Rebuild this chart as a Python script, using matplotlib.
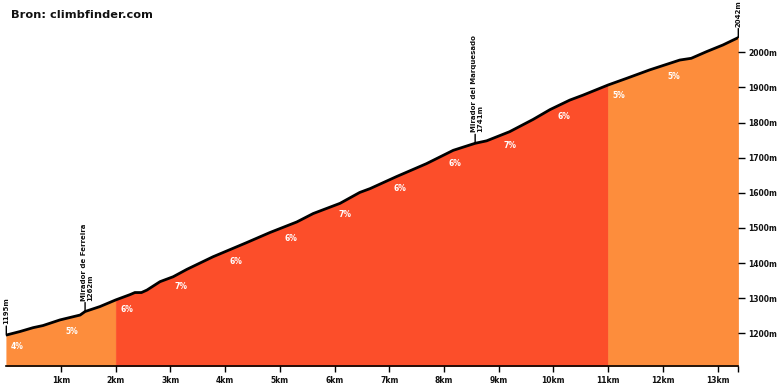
import numpy as np
import matplotlib
matplotlib.use("Agg")
import matplotlib.pyplot as plt

# profile (km, m)
km = [0.0, 0.25, 0.49, 0.67, 0.98, 1.35, 1.44, 1.71, 2.00, 2.26, 2.35, 2.47, 2.57,
      2.81, 3.05, 3.30, 3.78, 4.39, 4.82, 5.31, 5.61, 6.10, 6.46, 6.65, 7.13, 7.68,
      8.17, 8.57, 8.78, 9.20, 9.63, 9.94, 10.30, 10.54, 11.00, 11.34, 11.76, 12.31,
      12.52, 12.80, 13.10, 13.38]
elev = [1195, 1205, 1216, 1222, 1238, 1252, 1262, 1276, 1295, 1310, 1316, 1316, 1323,
        1347, 1361, 1382, 1418, 1458, 1487, 1517, 1541, 1570, 1601, 1612, 1646, 1683,
        1721, 1741, 1748, 1774, 1809, 1837, 1864, 1878, 1907, 1926, 1950, 1978,
        1983, 2002, 2021, 2042]

# gradient per km segment (last one is the short end piece, not labelled)
grades = [4, 5, 6, 7, 6, 6, 7, 6, 6, 7, 6, 5, 5, 5]

# points of interest
poi_km = [0.0, 1.44, 8.57, 13.38]
poi_labels = ["1195m", "Mirador de Ferreira\n1262m", "Mirador del Marquesado\n1741m", "2042m"]
poi_elev = [1195, 1262, 1741, 2042]

yticks = [1200, 1300, 1400, 1500, 1600, 1700, 1800, 1900, 2000]
xticks = list(range(1, 14))

ORANGE = "#fd8d3c"
RED = "#fc4e2a"

def grade_color(g):
    return ORANGE if g <= 5 else RED

km = np.array(km)
elev = np.array(elev)
xmax = km[-1]
ybot = 1106

fig = plt.figure(figsize=(7.8, 3.9), dpi=100)
ax = fig.add_axes([6.3 / 780, (390 - 366.3) / 390, 732 / 780, 366.3 / 390])
ax.set_xlim(0, xmax)
ax.set_ylim(ybot, 2149)

# group consecutive km segments with the same colour, so no seams show
groups = []
for i, g in enumerate(grades):
    c = grade_color(g)
    a, b = i, min(i + 1, xmax)
    if groups and groups[-1][2] == c:
        groups[-1][1] = b
    else:
        groups.append([a, b, c])

for a, b, c in groups:
    inner = km[(km > a) & (km < b)]
    xs = np.concatenate([[a], inner, [b]])
    ys = np.interp(xs, km, elev)
    ax.fill_between(xs, ybot, ys, facecolor=c, edgecolor=c, lw=0.4)

# grade labels
for i, g in enumerate(grades):
    if min(i + 1, xmax) - i >= 0.8:
        xl = i + 0.2
        ax.annotate(f"{g}%", xy=(xl, np.interp(xl, km, elev)), xytext=(0, -14),
                    textcoords="offset pixels", ha="center", va="center",
                    color="white", fontsize=5.5, fontweight="bold")

ax.plot(km, elev, color="black", lw=2, solid_capstyle="round", zorder=3)

# markers
for x, e, lab in zip(poi_km, poi_elev, poi_labels):
    ax.annotate("", xy=(x, e), xytext=(0, 9), textcoords="offset pixels",
                arrowprops=dict(arrowstyle="-", lw=1, color="black", shrinkA=0, shrinkB=0),
                annotation_clip=False)
    two = "\n" in lab
    ax.annotate(lab, xy=(x, e), xytext=(-4 if two else 0, 11), textcoords="offset pixels",
                rotation=90, ha="left" if two else "center", va="bottom",
                multialignment="left", fontsize=5, fontweight="bold",
                color="#111111", annotation_clip=False, linespacing=1.1)

for s in ["top", "left", "right"]:
    ax.spines[s].set_visible(False)
ax.spines["bottom"].set_linewidth(1.2)

ax.set_xticks(xticks)
ax.set_xticklabels([f"{t}km" for t in xticks])
ax.set_xticks([xmax], minor=True)
ax.tick_params(axis="x", which="both", length=4, width=1, pad=3)
ax.yaxis.tick_right()
ax.set_yticks(yticks)
ax.set_yticklabels([f"{t}m" for t in yticks])
ax.tick_params(axis="y", length=5, width=1, pad=2)
for lab in ax.get_xticklabels() + ax.get_yticklabels():
    lab.set_fontsize(5.5)
    lab.set_fontweight("bold")
    lab.set_color("#111111")

fig.text(11 / 780, 1 - 15 / 390, "Bron: climbfinder.com", fontsize=8.2,
         fontweight="bold", va="center", ha="left", color="#111111")

fig.savefig("out.png", dpi=100)
